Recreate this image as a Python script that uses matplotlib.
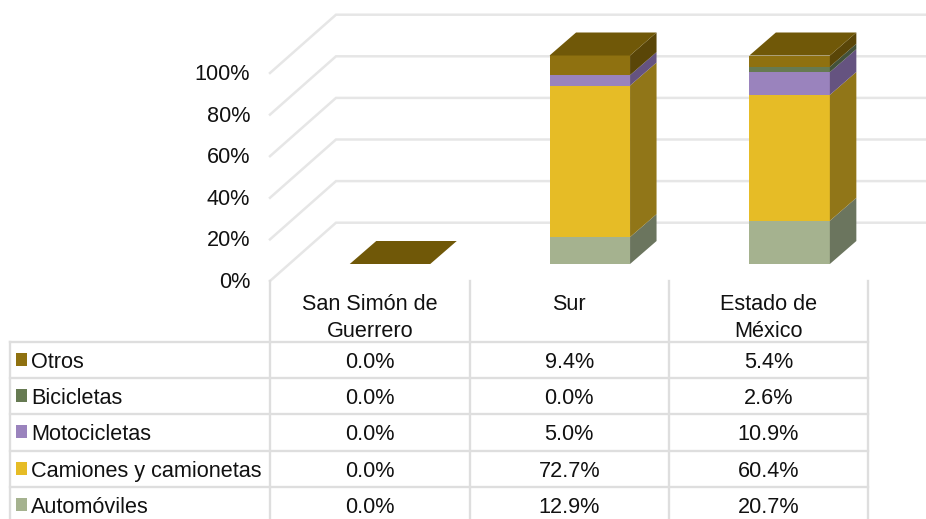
import matplotlib
matplotlib.use("Agg")
import matplotlib.pyplot as plt

plt.rcParams["font.family"] = ["Liberation Sans", "DejaVu Sans"]

# data, bottom of the stack first
places = ["San Simón de\nGuerrero", "Sur", "Estado de\nMéxico"]
automoviles = [0.0, 12.9, 20.7]
camiones = [0.0, 72.7, 60.4]
motocicletas = [0.0, 5.0, 10.9]
bicicletas = [0.0, 0.0, 2.6]
otros = [0.0, 9.4, 5.4]
series_names = ["Automóviles", "Camiones y camionetas", "Motocicletas", "Bicicletas", "Otros"]
y_ticks = [0, 20, 40, 60, 80, 100]

series = [automoviles, camiones, motocicletas, bicicletas, otros]
front = ["#a5b28f", "#e6bc26", "#9a83bd", "#667a52", "#8f7110"]
side = ["#6b755e", "#917618", "#655380", "#43523a", "#5a4608"]
top_col = "#705808"
grid_col = "#e6e6e6"
text_col = "#111111"
font_size = 15.6

W, H = 926, 519
fig = plt.figure(figsize=(W / 100, H / 100), dpi=100)

# pixel axes for walls and table
px = fig.add_axes([0, 0, 1, 1])
px.set_xlim(0, W)
px.set_ylim(H, 0)
px.axis("off")

# data axes, x = category number, y = percent on the front plane of the bars
ppx = 199.8
ppy = 2.085
x0_px = 390
y0_px = 264
ax = fig.add_axes([0, 0, 1, 1])
ax.set_xlim(-x0_px / ppx, (W - x0_px) / ppx)
ax.set_ylim(-(H - y0_px) / ppy, y0_px / ppy)
ax.axis("off")
ax.patch.set_alpha(0)

bar_w = 80.5 / ppx
dx = 26.5 / ppx
dy = 23 / ppy

# back wall gridlines
for t in y_ticks:
    y_front = 281 - t * 2.08
    y_back = 222.7 - t * 2.08
    px.plot([270, 336, W], [y_front, y_back, y_back], color=grid_col, lw=1.8,
            solid_joinstyle="miter")
    px.text(250, y_front + 1.5, f"{t}%", ha="right", va="center", fontsize=font_size, color=text_col)

# bars
for i in range(len(places)):
    left = i - bar_w / 2
    right = i + bar_w / 2
    base = 0
    for vals, fc, sc in zip(series, front, side):
        v = vals[i]
        if v > 0:
            ax.fill([left, right, right, left], [base, base, base + v, base + v], color=fc, lw=0)
            ax.fill([right, right + dx, right + dx, right],
                    [base, base + dy, base + v + dy, base + v], color=sc, lw=0)
        base += v
    ax.fill([left, right, right + dx, left + dx], [base, base, base + dy, base + dy],
            color=top_col, lw=0)

# table
col_x = [270, 469.5, 669, 868]
row_y = [341.7, 378, 414.3, 450.5, 486.8, 523]
cell_col = "#dedede"
for x in col_x:
    px.plot([x, x], [281, H], color=cell_col, lw=1.7)
px.plot([9.5, 9.5], [row_y[0], H], color=cell_col, lw=1.7)
for y in row_y:
    px.plot([9.5, col_x[-1]], [y, y], color=cell_col, lw=1.7)

centers = [(col_x[j] + col_x[j + 1]) / 2 for j in range(3)]
for c, name in zip(centers, places):
    lines = name.split("\n")
    for k, line in enumerate(lines):
        px.text(c, 304 + k * 27.5, line, ha="center", va="center", fontsize=font_size, color=text_col)

for r, j in enumerate(range(len(series) - 1, -1, -1)):
    yc = (row_y[r] + row_y[r + 1]) / 2 - 0.5
    px.add_patch(plt.Rectangle((16, yc - 6.5), 11, 13, fc=front[j], ec="none"))
    px.text(31, yc + 3, series_names[j], ha="left", va="center", fontsize=font_size, color=text_col)
    for c, v in zip(centers, series[j]):
        px.text(c, yc + 3, f"{v:.1f}%", ha="center", va="center", fontsize=font_size, color=text_col)

fig.savefig("out.png", dpi=100)
